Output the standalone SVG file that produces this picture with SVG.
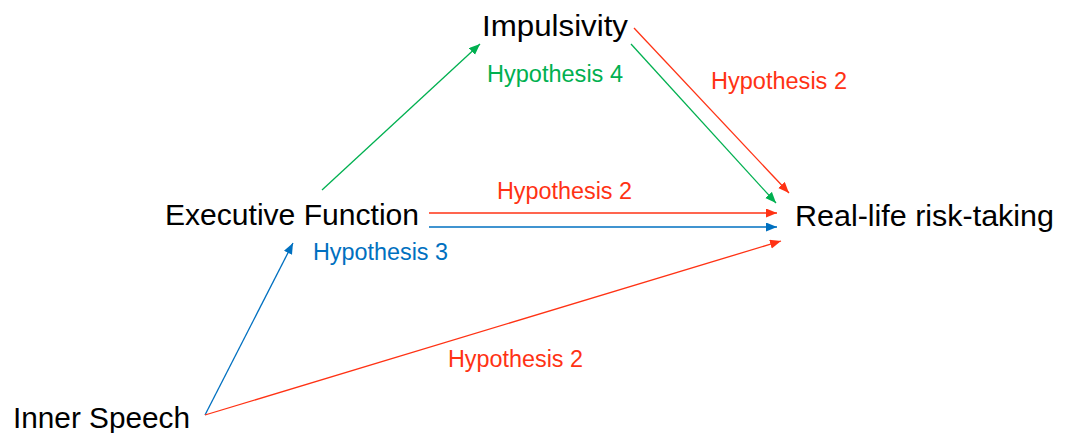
<svg xmlns="http://www.w3.org/2000/svg" width="1071" height="433" viewBox="0 0 1071 433">
<style>
.node{font-family:"Liberation Sans","Open Sans",sans-serif;font-size:29px;fill:#000}
.lab{font-family:"Liberation Sans","Open Sans",sans-serif;font-size:23px}
.red{fill:#FF3214}.green{fill:#00B050}.blue{fill:#0070C0}
.c{fill:none;stroke-width:1.3}
.cr{stroke:#FF3214}.cg{stroke:#00B050}.cb{stroke:#0070C0}
</style>
<defs>
<marker id="ar" markerUnits="userSpaceOnUse" markerWidth="12" markerHeight="10" refX="11" refY="4.5" orient="auto"><path d="M0,0 L11,4.5 L0,9 z" fill="#FF3214"/></marker>
<marker id="ag" markerUnits="userSpaceOnUse" markerWidth="12" markerHeight="10" refX="11" refY="4.5" orient="auto"><path d="M0,0 L11,4.5 L0,9 z" fill="#00B050"/></marker>
<marker id="ab" markerUnits="userSpaceOnUse" markerWidth="12" markerHeight="10" refX="11" refY="4.5" orient="auto"><path d="M0,0 L11,4.5 L0,9 z" fill="#0070C0"/></marker>
</defs>
<rect width="1071" height="433" fill="#fff"/>
<g id="connectors">
<line class="c cg" x1="322" y1="190" x2="480" y2="44" marker-end="url(#ag)"/>
<line class="c cr" x1="634" y1="28" x2="789" y2="193" marker-end="url(#ar)"/>
<line class="c cg" x1="631" y1="44" x2="776" y2="203" marker-end="url(#ag)"/>
<line class="c cr" x1="429" y1="213" x2="777" y2="213" marker-end="url(#ar)"/>
<line class="c cb" x1="429" y1="227" x2="777" y2="227" marker-end="url(#ab)"/>
<line class="c cb" x1="205" y1="415" x2="293" y2="243" marker-end="url(#ab)"/>
<line class="c cr" x1="205" y1="415" x2="781" y2="241" marker-end="url(#ar)"/>
</g>
<g id="impulsivity"><text class="node" x="482" y="36" textLength="146" lengthAdjust="spacingAndGlyphs">Impulsivity</text></g>
<g id="executive-function"><text class="node" x="165" y="225" textLength="254" lengthAdjust="spacingAndGlyphs">Executive Function</text></g>
<g id="real-life-risk-taking"><text class="node" x="795" y="226" textLength="259" lengthAdjust="spacingAndGlyphs">Real-life risk-taking</text></g>
<g id="inner-speech"><text class="node" x="13" y="428" textLength="177" lengthAdjust="spacingAndGlyphs">Inner Speech</text></g>
<g id="labels">
<text class="lab green" x="487" y="82" textLength="136" lengthAdjust="spacingAndGlyphs">Hypothesis 4</text>
<text class="lab red" x="711" y="89" textLength="136" lengthAdjust="spacingAndGlyphs">Hypothesis 2</text>
<text class="lab red" x="497" y="199" textLength="135" lengthAdjust="spacingAndGlyphs">Hypothesis 2</text>
<text class="lab blue" x="313" y="260" textLength="135" lengthAdjust="spacingAndGlyphs">Hypothesis 3</text>
<text class="lab red" x="448" y="367" textLength="135" lengthAdjust="spacingAndGlyphs">Hypothesis 2</text>
</g>
</svg>
